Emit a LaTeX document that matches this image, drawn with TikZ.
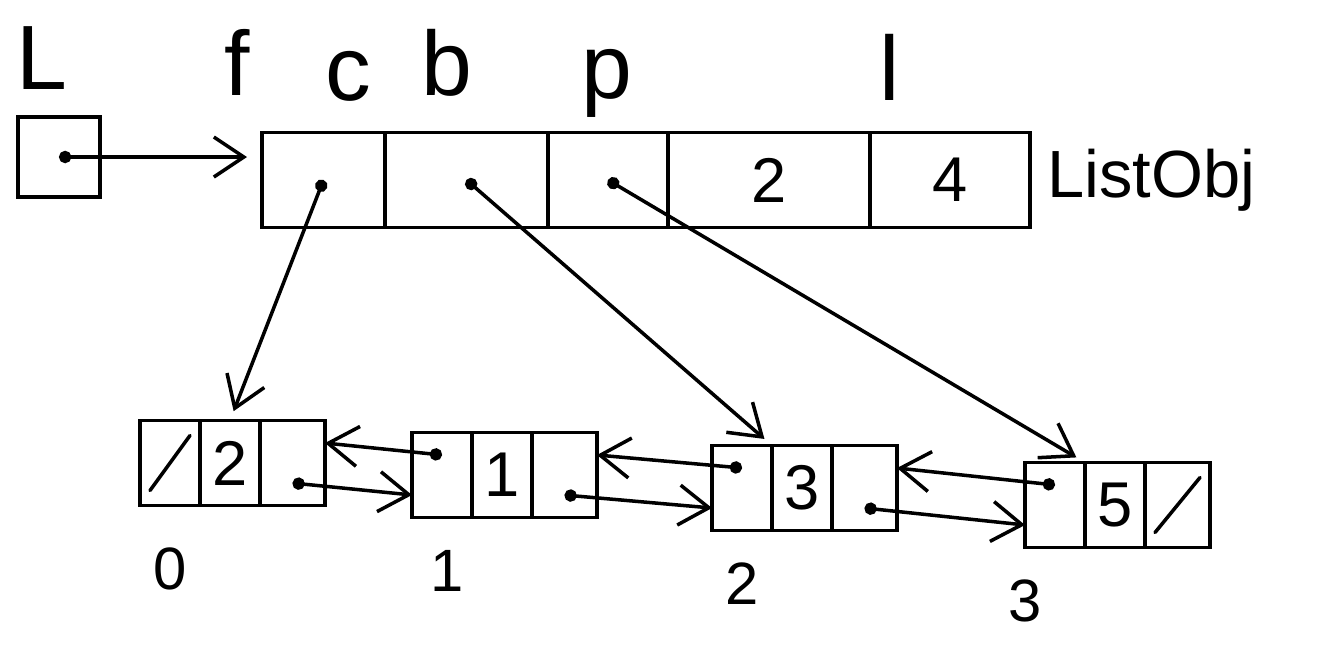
\documentclass[tikz,border=0pt]{standalone}
\usepackage{fontspec}
\setmainfont{Liberation Sans}
\usetikzlibrary{arrows.meta,positioning,calc}
\newcommand{\fsz}[1]{\fontsize{#1}{#1}\selectfont}
\tikzset{
	field/.style={draw, line width=1pt, minimum height=9.5mm, inner sep=0pt, outer sep=0pt, font=\fsz{18}},
	lcell/.style={draw, line width=1pt, minimum height=8.5mm, inner sep=0pt, outer sep=0pt, font=\fsz{18}},
	ptr/.style={{Circle[length=3.5pt]}-{Straight Barb[length=3mm,width=4mm]}, line width=1pt},
	fieldname/.style={font=\fsz{26}, anchor=base},
	idx/.style={font=\fsz{17}},
	nullmark/.style={line width=1pt, line cap=round}
}
\begin{document}
\begin{tikzpicture}[node distance=0pt]
	\useasboundingbox (0,0) rectangle (13.4,-6.55);
	
	%% -- head pointer
	\node[font=\fsz{26}] (lname) at (0.42,-0.58) {L};
	\node[draw, line width=1pt, minimum width=8.2mm, minimum height=8mm, inner sep=0pt] (lbox) at (0.59,-1.57) {};
	
	%% -- ListObj fields
	\node[field, minimum width=12.3mm, anchor=west] (cf) at (2.62,-1.80) {};
	\node[field, minimum width=16.3mm, right=of cf] (cc) {};
	\node[field, minimum width=12.0mm, right=of cc] (cb) {};
	\node[field, minimum width=20.2mm, right=of cb] (cp) {2};
	\node[field, minimum width=16.0mm, right=of cp] (cl) {4};
	\node[font=\fsz{19}, right=0.5mm of cl] (lobj) {ListObj};
	
	%% -- field names
	\node[fieldname] (nf) at (2.37,-0.95) {f};
	\node[fieldname] (nc) at (3.48,-1.00) {c};
	\node[fieldname] (nb) at (4.47,-0.95) {b};
	\node[fieldname] (np) at (6.07,-0.98) {p};
	\node[fieldname] (nl) at (8.90,-1.00) {l};
	
	%% -- list nodes (prev | data | next)
	\node[lcell, minimum width=6mm, anchor=west] (n0p) at (1.40,-4.63) {};
	\node[lcell, minimum width=6mm, right=of n0p] (n0d) {2};
	\node[lcell, minimum width=6.5mm, right=of n0d] (n0x) {};
	
	\node[lcell, minimum width=6mm, anchor=west] (n1p) at (4.12,-4.75) {};
	\node[lcell, minimum width=6mm, right=of n1p] (n1d) {1};
	\node[lcell, minimum width=6.5mm, right=of n1d] (n1x) {};
	
	\node[lcell, minimum width=6mm, anchor=west] (n2p) at (7.12,-4.88) {};
	\node[lcell, minimum width=6mm, right=of n2p] (n2d) {3};
	\node[lcell, minimum width=6.5mm, right=of n2d] (n2x) {};
	
	\node[lcell, minimum width=6mm, anchor=west] (n3p) at (10.25,-5.05) {};
	\node[lcell, minimum width=6mm, right=of n3p] (n3d) {5};
	\node[lcell, minimum width=6.5mm, right=of n3d] (n3x) {};
	
	%% -- null links
	\draw[nullmark] ([shift={(1mm,1.5mm)}]n0p.south west) -- ([shift={(-1mm,-1.5mm)}]n0p.north east);
	\draw[nullmark] ([shift={(1mm,1.5mm)}]n3x.south west) -- ([shift={(-1mm,-1.5mm)}]n3x.north east);
	
	%% -- indices
	\node[idx, below=3mm of n0p] (i0) {0};
	\node[idx, below=2mm of n1p, xshift=0.5mm] (i1) {1};
	\node[idx, below=2mm of n2p] (i2) {2};
	\node[idx, below=2mm of n3p, xshift=-3mm] (i3) {3};
	
	%% -- pointers from the header
	\draw[ptr, shorten >=1.5mm] (lbox.center) -- (lbox.center -| cf.west);
	\draw[ptr, shorten >=1mm] (cf.center) -- (n0d.north);
	\draw[ptr, shorten >=1mm] (cc.center) -- (n2d.north west);
	\draw[ptr, shorten >=1mm] (cb.center) -- (n3d.north west);
	
	%% -- prev / next links
	\draw[ptr] ([yshift=2mm]n1p.center) -- ([yshift=2mm]n0x.east);
	\draw[ptr] ([yshift=2mm]n2p.center) -- ([yshift=2mm]n1x.east);
	\draw[ptr] ([yshift=2mm]n3p.center) -- ([yshift=2mm]n2x.east);
	\draw[ptr] ([yshift=-2mm]n0x.center) -- ([yshift=-2mm]n1p.west);
	\draw[ptr] ([yshift=-2mm]n1x.center) -- ([yshift=-2mm]n2p.west);
	\draw[ptr] ([yshift=-2mm]n2x.center) -- ([yshift=-2mm]n3p.west);
\end{tikzpicture}
\end{document}
